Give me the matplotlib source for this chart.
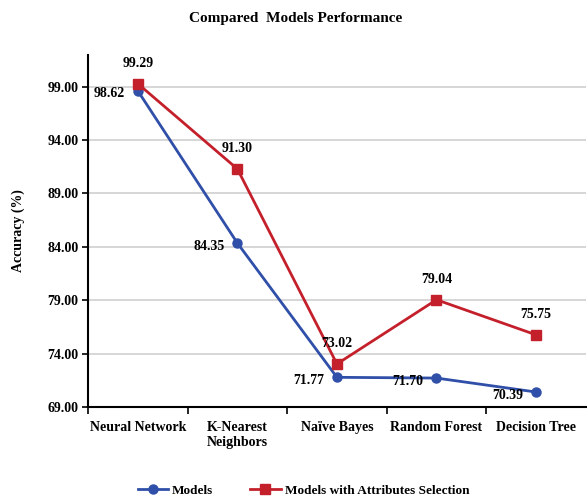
import matplotlib
matplotlib.use("Agg")
import matplotlib.pyplot as plt
import numpy as np

plt.rcParams['font.family'] = ['Liberation Serif', 'DejaVu Serif']
plt.rcParams['font.weight'] = 'bold'

categories = ["Neural Network", "K-Nearest\nNeighbors", "Naïve Bayes", "Random Forest", "Decision Tree"]
models = [98.62, 84.35, 71.77, 71.70, 70.39]
models_sel = [99.29, 91.30, 73.02, 79.04, 75.75]
yticks = [69, 74, 79, 84, 89, 94, 99]

blue = "#2f4fa8"
red = "#c4202b"

fig = plt.figure(figsize=(5.87, 4.98), dpi=100)
ax = fig.add_axes([0.150, 0.183, 0.848, 0.707])

x = np.arange(len(categories))
ax.plot(x, models, color=blue, lw=2.0, marker='o', ms=6.5, label="Models", zorder=3)
ax.plot(x, models_sel, color=red, lw=2.0, marker='s', ms=7.5, label="Models with Attributes Selection", zorder=3)

for i, v in enumerate(models):
    ax.annotate(f"{v:.2f}", (x[i], v), xytext=(-13, -3), textcoords='offset pixels',
                ha='right', va='center', fontsize=10, fontweight='bold')
for i, v in enumerate(models_sel):
    ax.annotate(f"{v:.2f}", (x[i], v), xytext=(0, 14), textcoords='offset pixels',
                ha='center', va='bottom', fontsize=10, fontweight='bold')

ax.set_xlim(-0.5, len(categories) - 0.5)
ax.set_ylim(69, 102)
ax.set_yticks(yticks)
ax.set_yticklabels([f"{t:.2f}" for t in yticks], fontsize=10, fontweight='bold')
ax.set_xticks(x)
ax.set_xticklabels(categories, fontsize=10, fontweight='bold')
ax.tick_params(axis='x', length=0, pad=10)
ax.set_xticks(np.arange(len(categories)) - 0.5, minor=True)
ax.tick_params(axis='x', which='minor', length=5, width=1.2, direction='out')
ax.tick_params(axis='y', length=4, width=1.2, direction='out', pad=3)

ax.grid(axis='y', color='#d0d0d0', lw=1.2)
ax.set_axisbelow(True)
for s in ['top', 'right']:
    ax.spines[s].set_visible(False)
ax.spines['left'].set_linewidth(1.5)
ax.spines['bottom'].set_linewidth(1.5)

ax.set_ylabel("Accuracy (%)", fontsize=10, fontweight='bold', labelpad=16)
fig.text(0.503, 0.962, "Compared  Models Performance", ha='center', va='center',
         fontsize=11, fontweight='bold')

fig.legend(loc='center', bbox_to_anchor=(0.517, 0.015), ncol=2, frameon=False,
           fontsize=9.5, handlelength=2.3, columnspacing=2.8, handletextpad=0.3)

fig.savefig("out.png", dpi=100)
